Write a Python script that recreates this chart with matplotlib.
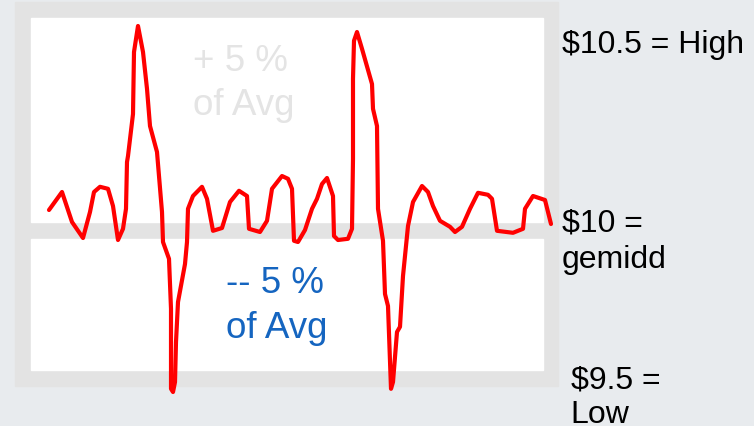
import matplotlib.pyplot as plt
from matplotlib.patches import Rectangle

plt.rcParams['font.family'] = ['Liberation Sans', 'DejaVu Sans']
plt.rcParams['text.parse_math'] = False

# price traced by hand (day, price in $)
days = [0, 2.6, 4.6, 6.8, 8.2, 9.0, 10.2, 11.8, 12.8, 13.8, 14.8, 15.4,
        15.6, 15.8, 16.8, 17.0, 17.8, 18.8, 19.6, 20.2, 21.6, 22.6, 22.8,
        24.0, 24.4, 24.4, 24.8, 25.2, 25.4, 25.8, 27.2, 27.6, 27.8, 28.8,
        30.6, 31.6, 32.8, 34.6, 36.2, 38.0, 39.6, 40.0, 42.2, 43.6, 44.6,
        46.6, 47.8, 48.6, 49.0, 49.8, 51.2, 52.6, 53.6, 54.6, 55.6, 56.8,
        57.0, 57.8, 59.8, 60.6, 60.8, 60.8, 61.0, 61.6, 62.6, 64.6, 64.8,
        65.6, 65.8, 66.8, 67.2, 67.8, 68.4, 68.8, 69.6, 70.2, 70.8, 71.8,
        72.8, 74.6, 75.8, 76.8, 78.2, 80.2, 81.2, 82.6, 84.2, 85.8, 87.8,
        88.6, 89.6, 92.8, 94.8, 95.2, 96.8, 99.2, 100.4]
price = [10.055, 10.100, 10.025, 9.985, 10.050, 10.100, 10.113, 10.108,
         10.065, 9.980, 10.008, 10.058, 10.175, 10.190, 10.295, 10.450,
         10.515, 10.450, 10.358, 10.265, 10.200, 10.050, 9.975, 9.933,
         9.808, 9.608, 9.600, 9.625, 9.725, 9.825, 9.920, 9.975, 10.058,
         10.090, 10.113, 10.083, 10.003, 10.010, 10.075, 10.103, 10.090,
         10.008, 10.000, 10.028, 10.108, 10.140, 10.133, 10.108, 9.978,
         9.975, 10.005, 10.058, 10.083, 10.120, 10.135, 10.090, 9.990,
         9.980, 9.983, 10.008, 10.183, 10.383, 10.478, 10.500, 10.458,
         10.370, 10.308, 10.265, 10.058, 9.978, 9.845, 9.815, 9.608,
         9.625, 9.750, 9.763, 9.890, 10.015, 10.075, 10.115, 10.100,
         10.065, 10.028, 10.013, 10.000, 10.013, 10.058, 10.098, 10.093,
         10.083, 10.003, 9.998, 10.008, 10.058, 10.090, 10.080, 10.020]

levels = ["$10.5 = High", "$10 =", "gemidd", "$9.5 =", "Low"]
band_up = ["+ 5 %", "of Avg"]
band_down = ["-- 5 %", "of Avg"]
footer = "de koers schommelt rond $10 en valt terug"

fig = plt.figure(figsize=(7.54, 4.27), dpi=100, facecolor='#e8ebee')
ax = fig.add_axes([0, 0, 1, 1])
ax.set_xlim(-9.8, 141)
ax.set_ylim(9.515, 10.5825)
ax.axis('off')

# gray frame with the two white zones (above / below the average)
ax.add_patch(Rectangle((0.020, 0.094), 0.720, 0.899, transform=ax.transAxes,
                       color='#e3e3e3', zorder=0))
ax.add_patch(Rectangle((0.041, 0.478), 0.679, 0.478, transform=ax.transAxes,
                       color='white', zorder=1))
ax.add_patch(Rectangle((0.041, 0.131), 0.679, 0.307, transform=ax.transAxes,
                       color='white', zorder=1))

ax.text(0.256, 0.834, band_up[0], transform=ax.transAxes, fontsize=26.5,
        color='#e4e4e4', va='baseline', zorder=2)
ax.text(0.256, 0.731, band_up[1], transform=ax.transAxes, fontsize=26.5,
        color='#e4e4e4', va='baseline', zorder=2)
ax.text(0.300, 0.314, band_down[0], transform=ax.transAxes, fontsize=26.5,
        color='#1565c0', va='baseline', zorder=2)
ax.text(0.300, 0.208, band_down[1], transform=ax.transAxes, fontsize=26.5,
        color='#1565c0', va='baseline', zorder=2)

ax.plot(days, price, color='#ff0000', lw=3.0, solid_joinstyle='round',
        solid_capstyle='round', zorder=3)

fig.text(0.745, 0.876, levels[0], fontsize=23, va='baseline')
fig.text(0.745, 0.457, levels[1], fontsize=23, va='baseline')
fig.text(0.745, 0.372, levels[2], fontsize=23, va='baseline')
fig.text(0.757, 0.091, levels[3], fontsize=23, va='baseline')
fig.text(0.757, 0.009, levels[4], fontsize=23, va='baseline')

# only the tops of the orange caption peek in at the bottom edge
fig.text(0.073, -0.064, footer, fontsize=26, color='#f07d22', va='baseline')

fig.savefig('out.png', dpi=100, facecolor=fig.get_facecolor())
